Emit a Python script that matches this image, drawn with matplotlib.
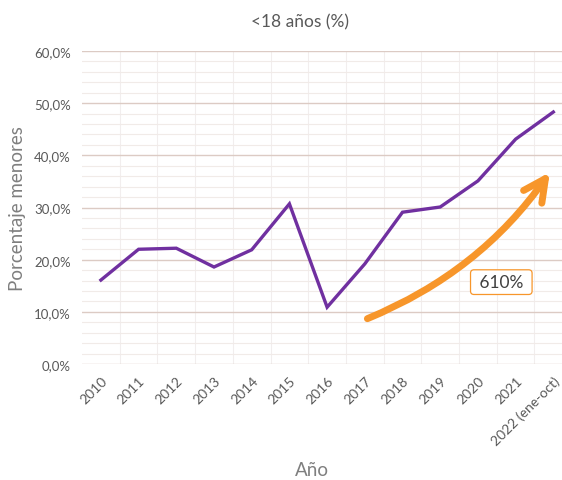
import matplotlib
matplotlib.use("Agg")
import matplotlib.pyplot as plt
from matplotlib.ticker import FuncFormatter, MultipleLocator

# datos
years = ["2010", "2011", "2012", "2013", "2014", "2015", "2016",
         "2017", "2018", "2019", "2020", "2021", "2022 (ene-oct)"]
pct = [0.161, 0.220, 0.222, 0.186, 0.219, 0.307, 0.109,
       0.192, 0.291, 0.301, 0.351, 0.431, 0.483]
arrow_from = (7, 0.085)
arrow_to = (11.95, 0.372)
label_pos = (10.62, 0.157)
label_txt = " 610% "

plt.rcParams['font.family'] = ['Lato', 'DejaVu Sans']

PURPLE = "#7030a0"
ORANGE = "#f7962b"
GREY = "#595959"

fig = plt.figure(figsize=(5.62, 4.81), dpi=100)
ax = fig.add_axes([0.146, 0.241, 0.854, 0.651])

x = list(range(len(years)))
ax.plot(x, pct, color=PURPLE, lw=2.4, solid_joinstyle="miter", zorder=3)

ax.set_xlim(-0.5, 12.23)
ax.set_ylim(0, 0.6)
ax.yaxis.set_major_locator(MultipleLocator(0.1))
ax.yaxis.set_minor_locator(MultipleLocator(0.02))
ax.yaxis.set_major_formatter(FuncFormatter(lambda v, p: ("%.1f%%" % (v * 100)).replace(".", ",")))
ax.set_xticks(x)
ax.set_xticklabels(years, rotation=45, ha="right", rotation_mode="anchor")

ax.grid(axis="y", which="major", color="#dccbc4", lw=1.0, zorder=0)
ax.grid(axis="y", which="minor", color="#f1ebe8", lw=0.8, zorder=0)
for b in [v + 0.5 for v in x]:
    ax.axvline(b, color="#f2eeee", lw=0.8, zorder=0)

for s in ax.spines.values():
    s.set_visible(False)
ax.tick_params(axis="both", which="both", length=0, colors=GREY)
ax.tick_params(axis="x", labelsize=10, pad=7)
ax.tick_params(axis="y", labelsize=9.5, pad=8)

fig.text(300 / 562, 1 - 22 / 481, "<18 años (%)", fontsize=12.5, color=GREY,
         ha="center", va="center")
ax.set_ylabel("Porcentaje menores", fontsize=13.5, color="#7f7f7f", labelpad=6)
ax.set_xlabel("Año", fontsize=13.5, color="#7f7f7f", labelpad=12)
ax.xaxis.set_label_coords((312 - 82) / 480, -0.31)

ax.annotate("", xy=arrow_to, xytext=arrow_from,
            arrowprops=dict(arrowstyle="->,head_length=1.6,head_width=0.8",
                            connectionstyle="arc3,rad=0.15",
                            color=ORANGE, lw=5, capstyle="round"),
            zorder=4)
ax.text(*label_pos, label_txt, fontsize=12.5, color="#404040", ha="center", va="center",
        bbox=dict(boxstyle="round,pad=0.25,rounding_size=0.2", fc="white", ec=ORANGE, lw=0.9),
        zorder=5)

fig.savefig("out.png", dpi=100)
